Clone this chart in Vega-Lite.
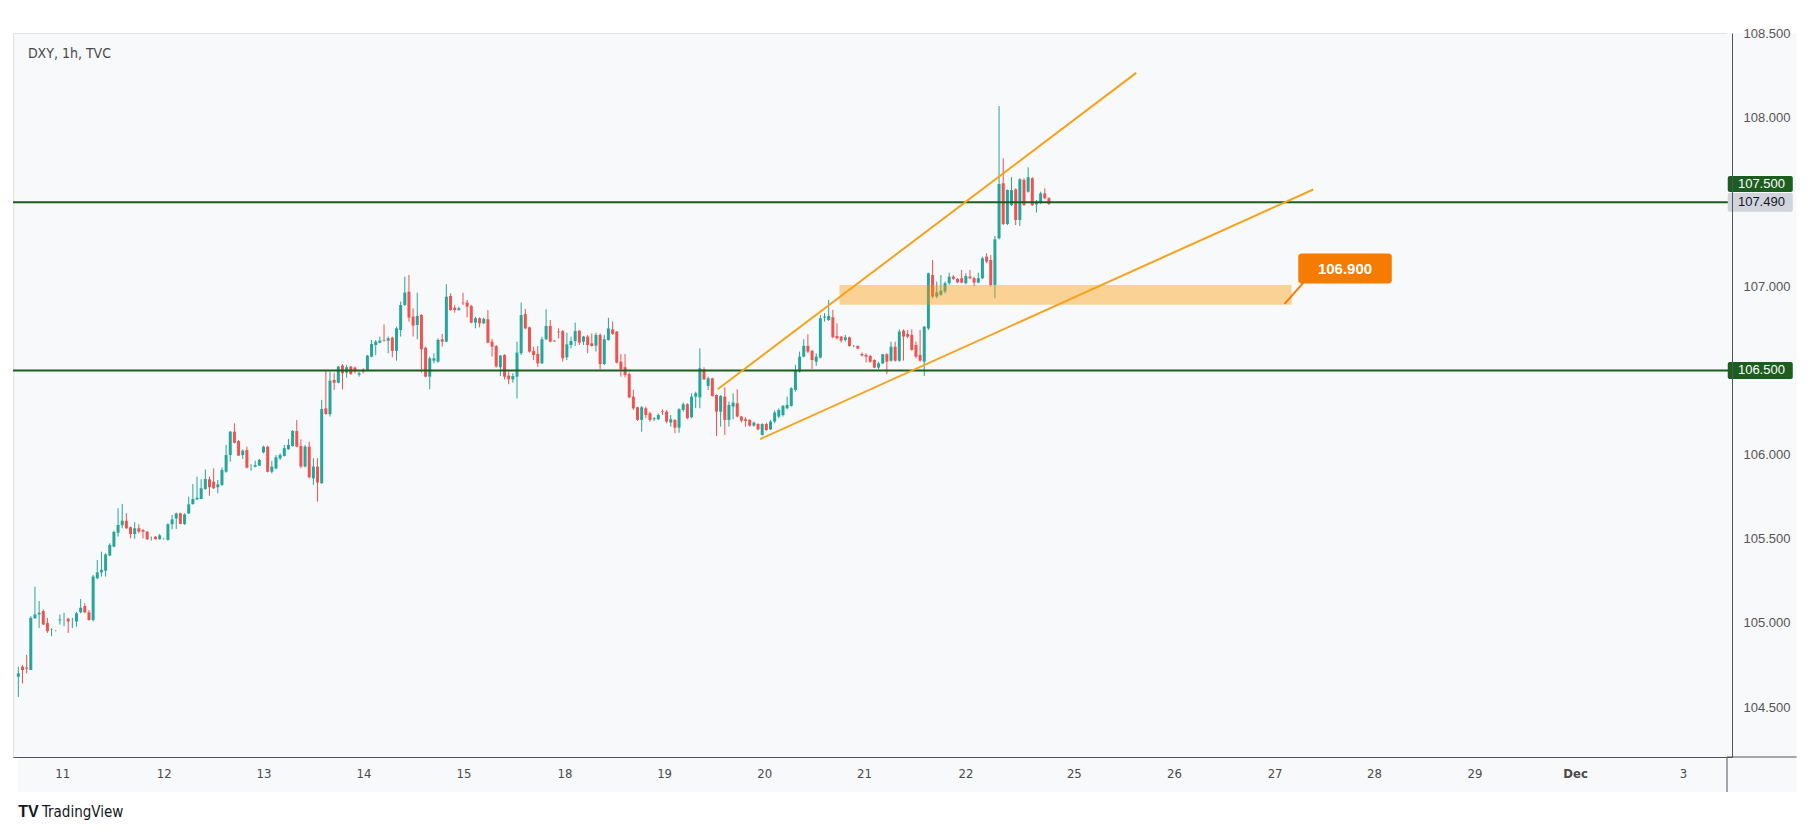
{
"$schema": "https://vega.github.io/schema/vega-lite/v6.json",
"width": 1719, "height": 724,
"autosize": {"type": "none"},
"padding": {"left": 13, "top": 33, "right": 83, "bottom": 78},
"background": "#ffffff",
"config": {"view": {"fill": "#f8f9fb", "stroke": "#e0e3eb"}, "font": "Liberation Sans"},
"datasets": {
"candles": [
{"t":0,"o":104.68,"h":104.74,"l":104.56,"c":104.70},
{"t":1,"o":104.74,"h":104.75,"l":104.64,"c":104.72},
{"t":2,"o":104.735,"h":104.81,"l":104.70,"c":104.728},
{"t":3,"o":104.72,"h":105.04,"l":104.72,"c":105.03},
{"t":4,"o":105.027,"h":105.215,"l":105.025,"c":105.05},
{"t":5,"o":105.05,"h":105.13,"l":104.97,"c":105.06},
{"t":6,"o":105.07,"h":105.08,"l":104.988,"c":104.99},
{"t":7,"o":105.0,"h":105.03,"l":104.94,"c":104.95},
{"t":8,"o":104.958,"h":104.968,"l":104.92,"c":104.96},
{"t":9,"o":104.955,"h":104.957,"l":104.95,"c":104.955},
{"t":10,"o":105.015,"h":105.05,"l":104.99,"c":105.02},
{"t":11,"o":105.02,"h":105.06,"l":104.98,"c":105.02},
{"t":12,"o":105.025,"h":105.03,"l":104.94,"c":105.008},
{"t":13,"o":105.013,"h":105.03,"l":104.97,"c":105.013},
{"t":14,"o":105.008,"h":105.065,"l":104.978,"c":105.057},
{"t":15,"o":105.063,"h":105.142,"l":105.057,"c":105.09},
{"t":16,"o":105.1,"h":105.116,"l":105.057,"c":105.063},
{"t":17,"o":105.063,"h":105.077,"l":105.013,"c":105.017},
{"t":18,"o":105.017,"h":105.285,"l":105.008,"c":105.275},
{"t":19,"o":105.265,"h":105.374,"l":105.259,"c":105.3},
{"t":20,"o":105.3,"h":105.423,"l":105.275,"c":105.315},
{"t":21,"o":105.31,"h":105.413,"l":105.275,"c":105.407},
{"t":22,"o":105.4,"h":105.473,"l":105.398,"c":105.463},
{"t":23,"o":105.453,"h":105.548,"l":105.449,"c":105.54},
{"t":24,"o":105.536,"h":105.681,"l":105.512,"c":105.582},
{"t":25,"o":105.58,"h":105.707,"l":105.562,"c":105.607},
{"t":26,"o":105.607,"h":105.651,"l":105.558,"c":105.562},
{"t":27,"o":105.568,"h":105.572,"l":105.502,"c":105.528},
{"t":28,"o":105.528,"h":105.598,"l":105.499,"c":105.562},
{"t":29,"o":105.562,"h":105.586,"l":105.532,"c":105.542},
{"t":30,"o":105.552,"h":105.558,"l":105.502,"c":105.542},
{"t":31,"o":105.542,"h":105.546,"l":105.493,"c":105.497},
{"t":32,"o":105.503,"h":105.513,"l":105.489,"c":105.503},
{"t":33,"o":105.512,"h":105.515,"l":105.495,"c":105.497},
{"t":34,"o":105.497,"h":105.528,"l":105.495,"c":105.52},
{"t":35,"o":105.5,"h":105.505,"l":105.495,"c":105.5},
{"t":36,"o":105.493,"h":105.592,"l":105.489,"c":105.586},
{"t":37,"o":105.586,"h":105.641,"l":105.556,"c":105.615},
{"t":38,"o":105.62,"h":105.655,"l":105.558,"c":105.65},
{"t":39,"o":105.651,"h":105.655,"l":105.586,"c":105.588},
{"t":40,"o":105.588,"h":105.651,"l":105.582,"c":105.645},
{"t":41,"o":105.65,"h":105.75,"l":105.647,"c":105.704},
{"t":42,"o":105.706,"h":105.825,"l":105.702,"c":105.736},
{"t":43,"o":105.734,"h":105.869,"l":105.73,"c":105.744},
{"t":44,"o":105.736,"h":105.853,"l":105.734,"c":105.8},
{"t":45,"o":105.796,"h":105.912,"l":105.79,"c":105.855},
{"t":46,"o":105.853,"h":105.869,"l":105.756,"c":105.806},
{"t":47,"o":105.839,"h":105.918,"l":105.796,"c":105.8},
{"t":48,"o":105.806,"h":105.849,"l":105.77,"c":105.823},
{"t":49,"o":105.82,"h":105.924,"l":105.813,"c":105.908},
{"t":50,"o":105.898,"h":106.057,"l":105.892,"c":105.997},
{"t":51,"o":105.997,"h":106.14,"l":105.958,"c":106.136},
{"t":52,"o":106.136,"h":106.186,"l":106.067,"c":106.07},
{"t":53,"o":106.08,"h":106.087,"l":105.992,"c":105.994},
{"t":54,"o":105.997,"h":106.031,"l":105.974,"c":106.023},
{"t":55,"o":106.027,"h":106.047,"l":105.918,"c":105.922},
{"t":56,"o":105.932,"h":105.944,"l":105.904,"c":105.932},
{"t":57,"o":105.928,"h":105.964,"l":105.924,"c":105.938},
{"t":58,"o":105.934,"h":105.974,"l":105.932,"c":105.968},
{"t":59,"o":106.013,"h":106.053,"l":106.007,"c":106.047},
{"t":60,"o":106.047,"h":106.053,"l":105.894,"c":105.898},
{"t":61,"o":105.898,"h":105.962,"l":105.888,"c":105.928},
{"t":62,"o":105.918,"h":105.997,"l":105.912,"c":105.984},
{"t":63,"o":105.978,"h":106.007,"l":105.968,"c":105.997},
{"t":64,"o":105.992,"h":106.057,"l":105.988,"c":106.038},
{"t":65,"o":106.032,"h":106.093,"l":106.028,"c":106.057},
{"t":66,"o":106.051,"h":106.146,"l":106.047,"c":106.14},
{"t":67,"o":106.14,"h":106.206,"l":106.043,"c":106.047},
{"t":68,"o":106.051,"h":106.091,"l":105.919,"c":105.929},
{"t":69,"o":105.929,"h":106.057,"l":105.923,"c":106.047},
{"t":70,"o":106.047,"h":106.077,"l":105.859,"c":105.865},
{"t":71,"o":105.859,"h":105.978,"l":105.82,"c":105.929},
{"t":72,"o":105.929,"h":105.978,"l":105.721,"c":105.834},
{"t":73,"o":105.83,"h":106.325,"l":105.826,"c":106.271},
{"t":74,"o":106.275,"h":106.503,"l":106.236,"c":106.241},
{"t":75,"o":106.24,"h":106.493,"l":106.226,"c":106.439},
{"t":76,"o":106.443,"h":106.487,"l":106.384,"c":106.427},
{"t":77,"o":106.427,"h":106.527,"l":106.423,"c":106.523},
{"t":78,"o":106.529,"h":106.538,"l":106.388,"c":106.483},
{"t":79,"o":106.487,"h":106.533,"l":106.457,"c":106.519},
{"t":80,"o":106.523,"h":106.527,"l":106.473,"c":106.479},
{"t":81,"o":106.517,"h":106.523,"l":106.483,"c":106.493},
{"t":82,"o":106.475,"h":106.493,"l":106.463,"c":106.483},
{"t":83,"o":106.503,"h":106.513,"l":106.483,"c":106.493},
{"t":84,"o":106.503,"h":106.592,"l":106.499,"c":106.588},
{"t":85,"o":106.582,"h":106.681,"l":106.578,"c":106.657},
{"t":86,"o":106.651,"h":106.681,"l":106.592,"c":106.671},
{"t":87,"o":106.665,"h":106.701,"l":106.661,"c":106.677},
{"t":88,"o":106.681,"h":106.774,"l":106.671,"c":106.677},
{"t":89,"o":106.677,"h":106.701,"l":106.602,"c":106.691},
{"t":90,"o":106.695,"h":106.701,"l":106.578,"c":106.616},
{"t":91,"o":106.616,"h":106.76,"l":106.558,"c":106.75},
{"t":92,"o":106.74,"h":106.909,"l":106.701,"c":106.889},
{"t":93,"o":106.889,"h":107.057,"l":106.883,"c":106.962},
{"t":94,"o":106.968,"h":107.067,"l":106.79,"c":106.814},
{"t":95,"o":106.82,"h":106.869,"l":106.701,"c":106.766},
{"t":96,"o":106.77,"h":106.962,"l":106.685,"c":106.824},
{"t":97,"o":106.83,"h":106.835,"l":106.487,"c":106.626},
{"t":98,"o":106.635,"h":106.641,"l":106.459,"c":106.463},
{"t":99,"o":106.463,"h":106.582,"l":106.388,"c":106.572},
{"t":100,"o":106.558,"h":106.602,"l":106.542,"c":106.572},
{"t":101,"o":106.552,"h":106.691,"l":106.546,"c":106.681},
{"t":102,"o":106.685,"h":106.717,"l":106.641,"c":106.671},
{"t":103,"o":106.671,"h":107.012,"l":106.667,"c":106.938},
{"t":104,"o":106.942,"h":106.958,"l":106.855,"c":106.859},
{"t":105,"o":106.873,"h":106.889,"l":106.843,"c":106.859},
{"t":106,"o":106.859,"h":106.879,"l":106.855,"c":106.869},
{"t":107,"o":106.903,"h":106.962,"l":106.889,"c":106.899},
{"t":108,"o":106.903,"h":106.919,"l":106.816,"c":106.879},
{"t":109,"o":106.883,"h":106.889,"l":106.78,"c":106.784},
{"t":110,"o":106.784,"h":106.82,"l":106.75,"c":106.81},
{"t":111,"o":106.81,"h":106.816,"l":106.756,"c":106.78},
{"t":112,"o":106.78,"h":106.814,"l":106.776,"c":106.806},
{"t":113,"o":106.804,"h":106.859,"l":106.661,"c":106.665},
{"t":114,"o":106.671,"h":106.687,"l":106.582,"c":106.641},
{"t":115,"o":106.645,"h":106.651,"l":106.517,"c":106.523},
{"t":116,"o":106.519,"h":106.592,"l":106.467,"c":106.588},
{"t":117,"o":106.592,"h":106.596,"l":106.447,"c":106.463},
{"t":118,"o":106.469,"h":106.493,"l":106.418,"c":106.447},
{"t":119,"o":106.447,"h":106.483,"l":106.427,"c":106.467},
{"t":120,"o":106.463,"h":106.671,"l":106.334,"c":106.606},
{"t":121,"o":106.602,"h":106.903,"l":106.592,"c":106.829},
{"t":122,"o":106.835,"h":106.865,"l":106.744,"c":106.75},
{"t":123,"o":106.756,"h":106.76,"l":106.606,"c":106.612},
{"t":124,"o":106.616,"h":106.641,"l":106.562,"c":106.592},
{"t":125,"o":106.598,"h":106.645,"l":106.519,"c":106.542},
{"t":126,"o":106.542,"h":106.7,"l":106.538,"c":106.685},
{"t":127,"o":106.685,"h":106.863,"l":106.681,"c":106.764},
{"t":128,"o":106.764,"h":106.8,"l":106.667,"c":106.671},
{"t":129,"o":106.677,"h":106.68,"l":106.67,"c":106.673},
{"t":130,"o":106.731,"h":106.75,"l":106.69,"c":106.727},
{"t":131,"o":106.734,"h":106.74,"l":106.552,"c":106.572},
{"t":132,"o":106.578,"h":106.724,"l":106.562,"c":106.655},
{"t":133,"o":106.651,"h":106.701,"l":106.631,"c":106.675},
{"t":134,"o":106.675,"h":106.784,"l":106.645,"c":106.734},
{"t":135,"o":106.736,"h":106.74,"l":106.651,"c":106.665},
{"t":136,"o":106.671,"h":106.705,"l":106.651,"c":106.701},
{"t":137,"o":106.701,"h":106.711,"l":106.602,"c":106.651},
{"t":138,"o":106.661,"h":106.72,"l":106.641,"c":106.645},
{"t":139,"o":106.647,"h":106.724,"l":106.612,"c":106.711},
{"t":140,"o":106.711,"h":106.72,"l":106.507,"c":106.538},
{"t":141,"o":106.538,"h":106.711,"l":106.532,"c":106.685},
{"t":142,"o":106.681,"h":106.813,"l":106.677,"c":106.75},
{"t":143,"o":106.744,"h":106.79,"l":106.711,"c":106.717},
{"t":144,"o":106.731,"h":106.734,"l":106.542,"c":106.546},
{"t":145,"o":106.552,"h":106.598,"l":106.463,"c":106.507},
{"t":146,"o":106.519,"h":106.598,"l":106.459,"c":106.473},
{"t":147,"o":106.479,"h":106.487,"l":106.334,"c":106.34},
{"t":148,"o":106.344,"h":106.384,"l":106.265,"c":106.275},
{"t":149,"o":106.281,"h":106.285,"l":106.2,"c":106.206},
{"t":150,"o":106.206,"h":106.289,"l":106.136,"c":106.281},
{"t":151,"o":106.275,"h":106.285,"l":106.216,"c":106.235},
{"t":152,"o":106.245,"h":106.255,"l":106.196,"c":106.206},
{"t":153,"o":106.21,"h":106.222,"l":106.2,"c":106.216},
{"t":154,"o":106.21,"h":106.245,"l":106.206,"c":106.235},
{"t":155,"o":106.257,"h":106.27,"l":106.235,"c":106.253},
{"t":156,"o":106.255,"h":106.265,"l":106.186,"c":106.196},
{"t":157,"o":106.19,"h":106.235,"l":106.166,"c":106.21},
{"t":158,"o":106.206,"h":106.21,"l":106.127,"c":106.16},
{"t":159,"o":106.16,"h":106.275,"l":106.13,"c":106.269},
{"t":160,"o":106.265,"h":106.309,"l":106.255,"c":106.299},
{"t":161,"o":106.299,"h":106.305,"l":106.21,"c":106.216},
{"t":162,"o":106.222,"h":106.364,"l":106.216,"c":106.344},
{"t":163,"o":106.344,"h":106.374,"l":106.275,"c":106.364},
{"t":164,"o":106.34,"h":106.631,"l":106.275,"c":106.513},
{"t":165,"o":106.507,"h":106.519,"l":106.443,"c":106.447},
{"t":166,"o":106.408,"h":106.463,"l":106.384,"c":106.453},
{"t":167,"o":106.453,"h":106.457,"l":106.344,"c":106.348},
{"t":168,"o":106.354,"h":106.358,"l":106.111,"c":106.255},
{"t":169,"o":106.255,"h":106.354,"l":106.166,"c":106.348},
{"t":170,"o":106.344,"h":106.4,"l":106.117,"c":106.206},
{"t":171,"o":106.206,"h":106.315,"l":106.166,"c":106.295},
{"t":172,"o":106.285,"h":106.364,"l":106.21,"c":106.309},
{"t":173,"o":106.305,"h":106.388,"l":106.222,"c":106.226},
{"t":174,"o":106.226,"h":106.23,"l":106.19,"c":106.202},
{"t":175,"o":106.21,"h":106.222,"l":106.166,"c":106.2},
{"t":176,"o":106.206,"h":106.21,"l":106.166,"c":106.172},
{"t":177,"o":106.172,"h":106.196,"l":106.166,"c":106.19},
{"t":178,"o":106.182,"h":106.186,"l":106.143,"c":106.15},
{"t":179,"o":106.117,"h":106.186,"l":106.113,"c":106.182},
{"t":180,"o":106.182,"h":106.19,"l":106.14,"c":106.146},
{"t":181,"o":106.15,"h":106.206,"l":106.146,"c":106.196},
{"t":182,"o":106.196,"h":106.261,"l":106.186,"c":106.25},
{"t":183,"o":106.226,"h":106.275,"l":106.216,"c":106.265},
{"t":184,"o":106.235,"h":106.295,"l":106.226,"c":106.289},
{"t":185,"o":106.275,"h":106.344,"l":106.269,"c":106.295},
{"t":186,"o":106.289,"h":106.4,"l":106.285,"c":106.394},
{"t":187,"o":106.384,"h":106.533,"l":106.374,"c":106.503},
{"t":188,"o":106.493,"h":106.612,"l":106.487,"c":106.582},
{"t":189,"o":106.582,"h":106.685,"l":106.578,"c":106.646},
{"t":190,"o":106.646,"h":106.715,"l":106.602,"c":106.612},
{"t":191,"o":106.616,"h":106.622,"l":106.507,"c":106.562},
{"t":192,"o":106.552,"h":106.602,"l":106.527,"c":106.582},
{"t":193,"o":106.576,"h":106.83,"l":106.572,"c":106.81},
{"t":194,"o":106.814,"h":106.84,"l":106.79,"c":106.82},
{"t":195,"o":106.8,"h":106.919,"l":106.794,"c":106.824},
{"t":196,"o":106.816,"h":106.86,"l":106.691,"c":106.697},
{"t":197,"o":106.705,"h":106.78,"l":106.685,"c":106.691},
{"t":198,"o":106.701,"h":106.705,"l":106.665,"c":106.677},
{"t":199,"o":106.681,"h":106.711,"l":106.671,"c":106.697},
{"t":200,"o":106.697,"h":106.701,"l":106.641,"c":106.645},
{"t":201,"o":106.645,"h":106.651,"l":106.638,"c":106.646},
{"t":202,"o":106.645,"h":106.649,"l":106.626,"c":106.63},
{"t":203,"o":106.598,"h":106.606,"l":106.582,"c":106.59},
{"t":204,"o":106.592,"h":106.602,"l":106.547,"c":106.582},
{"t":205,"o":106.586,"h":106.592,"l":106.546,"c":106.552},
{"t":206,"o":106.562,"h":106.566,"l":106.513,"c":106.517},
{"t":207,"o":106.517,"h":106.552,"l":106.507,"c":106.542},
{"t":208,"o":106.542,"h":106.598,"l":106.538,"c":106.596},
{"t":209,"o":106.596,"h":106.602,"l":106.479,"c":106.552},
{"t":210,"o":106.558,"h":106.671,"l":106.552,"c":106.641},
{"t":211,"o":106.641,"h":106.671,"l":106.552,"c":106.558},
{"t":212,"o":106.558,"h":106.744,"l":106.552,"c":106.731},
{"t":213,"o":106.737,"h":106.744,"l":106.558,"c":106.701},
{"t":214,"o":106.717,"h":106.74,"l":106.691,"c":106.701},
{"t":215,"o":106.711,"h":106.744,"l":106.618,"c":106.622},
{"t":216,"o":106.651,"h":106.671,"l":106.572,"c":106.582},
{"t":217,"o":106.592,"h":106.74,"l":106.552,"c":106.558},
{"t":218,"o":106.552,"h":106.764,"l":106.467,"c":106.76},
{"t":219,"o":106.75,"h":107.081,"l":106.74,"c":107.077},
{"t":220,"o":107.067,"h":107.156,"l":106.929,"c":106.939},
{"t":221,"o":106.939,"h":107.028,"l":106.929,"c":106.964},
{"t":222,"o":106.95,"h":107.067,"l":106.943,"c":106.974},
{"t":223,"o":106.969,"h":107.028,"l":106.958,"c":107.018},
{"t":224,"o":107.018,"h":107.081,"l":107.008,"c":107.057},
{"t":225,"o":107.057,"h":107.067,"l":107.038,"c":107.044},
{"t":226,"o":107.044,"h":107.048,"l":107.018,"c":107.024},
{"t":227,"o":107.048,"h":107.097,"l":107.018,"c":107.022},
{"t":228,"o":107.018,"h":107.077,"l":107.012,"c":107.061},
{"t":229,"o":107.057,"h":107.097,"l":107.042,"c":107.048},
{"t":230,"o":107.048,"h":107.057,"l":107.002,"c":107.022},
{"t":231,"o":107.022,"h":107.081,"l":107.018,"c":107.048},
{"t":232,"o":107.048,"h":107.176,"l":107.042,"c":107.166},
{"t":233,"o":107.176,"h":107.196,"l":107.137,"c":107.147},
{"t":234,"o":107.156,"h":107.186,"l":106.998,"c":107.008},
{"t":235,"o":107.008,"h":107.299,"l":106.929,"c":107.279},
{"t":236,"o":107.285,"h":108.071,"l":107.279,"c":107.608},
{"t":237,"o":107.612,"h":107.761,"l":107.364,"c":107.37},
{"t":238,"o":107.37,"h":107.576,"l":107.364,"c":107.572},
{"t":239,"o":107.483,"h":107.648,"l":107.477,"c":107.572},
{"t":240,"o":107.576,"h":107.582,"l":107.364,"c":107.394},
{"t":241,"o":107.394,"h":107.642,"l":107.358,"c":107.636},
{"t":242,"o":107.632,"h":107.642,"l":107.477,"c":107.483},
{"t":243,"o":107.562,"h":107.707,"l":107.556,"c":107.648},
{"t":244,"o":107.642,"h":107.648,"l":107.477,"c":107.483},
{"t":245,"o":107.487,"h":107.513,"l":107.438,"c":107.503},
{"t":246,"o":107.497,"h":107.562,"l":107.489,"c":107.552},
{"t":247,"o":107.552,"h":107.582,"l":107.517,"c":107.523},
{"t":248,"o":107.523,"h":107.529,"l":107.483,"c":107.49}
],
"levels": [{"p": 107.5}, {"p": 106.5}],
"trend": [
{"id": "upper", "t": 168.3, "p": 106.388},
{"id": "upper", "t": 269.0, "p": 108.268},
{"id": "lower", "t": 178.5, "p": 106.092},
{"id": "lower", "t": 311.6, "p": 107.575}
],
"zone": [{"t1": 197.6, "t2": 306.4, "p1": 106.89, "p2": 107.008}],
"callout": [{"label": "106.900", "t1": 308.0, "t2": 330.5, "p1": 107.016, "p2": 107.195, "tm": 319.25, "pm": 107.105}],
"pointer": [{"t": 304.7, "p": 106.895}, {"t": 309.2, "p": 107.02}],
"tags": [
{"label": "107.500", "kind": "level", "lo": 107.56, "hi": 107.655, "mid": 107.607},
{"label": "107.490", "kind": "last", "lo": 107.443, "hi": 107.554, "mid": 107.498},
{"label": "106.500", "kind": "level", "lo": 106.449, "hi": 106.55, "mid": 106.5}
]
},
"layer": [
{
"data": {"name": "candles"},
"mark": {"type": "rule", "strokeWidth": 1, "clip": true},
"encoding": {
"x": {"field": "t", "type": "quantitative", "scale": {"domain": [-0.08, 411.17], "nice": false, "zero": false},
"axis": {"orient": "bottom", "title": null, "grid": false, "ticks": false, "zindex": 1,
"values": [10.54, 35, 59, 83.06, 107.1, 131.4, 155.4, 179.5, 203.5, 227.9, 254, 278.1, 302.3, 326.2, 350.4, 374.6, 400.6],
"labelExpr": "['11','12','13','14','15','18','19','20','21','22','25','26','27','28','29','Dec','3'][indexof([10.54,35,59,83.06,107.1,131.4,155.4,179.5,203.5,227.9,254,278.1,302.3,326.2,350.4,374.6,400.6], datum.value)]",
"labelFontWeight": {"condition": {"test": "datum.value == 374.6", "value": "bold"}, "value": "normal"},
"labelFont": "'DejaVu Sans Condensed', 'Liberation Sans', sans-serif", "labelFontSize": 13, "labelColor": "#4a4a4a", "labelPadding": 10,
"labelOverlap": false, "labelFlush": false, "domainColor": "#50535e", "domainWidth": 1}},
"y": {"field": "l", "type": "quantitative", "scale": {"domain": [104.203, 108.505], "nice": false, "zero": false},
"axis": {"orient": "right", "title": null, "grid": false, "ticks": false, "zindex": 1,
"values": [104.5, 105, 105.5, 106, 107, 108, 108.5], "format": ".3f",
"labelFont": "Liberation Sans", "labelFontSize": 13, "labelColor": "#555555", "labelPadding": 11,
"labelOverlap": false, "labelFlush": false, "domainColor": "#50535e", "domainWidth": 1}},
"y2": {"field": "h"},
"color": {"condition": {"test": "datum.c >= datum.o", "value": "#26a69a"}, "value": "#ef5350"}
}
},
{
"data": {"values": [{}]},
"mark": {"type": "rect", "fill": "#f8f9fb", "clip": false},
"encoding": {
"x": {"datum": 411.17, "type": "quantitative", "scale": {"domain": [-0.08, 411.17], "nice": false, "zero": false}},
"x2": {"datum": 427.9},
"y": {"datum": 108.505, "type": "quantitative", "scale": {"domain": [104.203, 108.505], "nice": false, "zero": false}},
"y2": {"datum": 103.995}
}
},
{
"data": {"values": [{}]},
"mark": {"type": "rect", "fill": "#f8f9fb", "clip": false},
"encoding": {
"x": {"datum": -0.08, "type": "quantitative", "scale": {"domain": [-0.08, 411.17], "nice": false, "zero": false}},
"x2": {"datum": 411.17},
"y": {"datum": 104.203, "type": "quantitative", "scale": {"domain": [104.203, 108.505], "nice": false, "zero": false}},
"y2": {"datum": 103.995}
}
},
{
"data": {"values": [{}]},
"mark": {"type": "rule", "color": "#50535e", "strokeWidth": 1, "clip": false},
"encoding": {
"x": {"datum": 411.17, "type": "quantitative", "scale": {"domain": [-0.08, 411.17], "nice": false, "zero": false}},
"x2": {"datum": 427.9},
"y": {"datum": 104.203, "type": "quantitative", "scale": {"domain": [104.203, 108.505], "nice": false, "zero": false}}
}
},
{
"data": {"values": [{}]},
"mark": {"type": "rule", "color": "#50535e", "strokeWidth": 1, "clip": false},
"encoding": {
"x": {"datum": 411.17, "type": "quantitative", "scale": {"domain": [-0.08, 411.17], "nice": false, "zero": false}},
"y": {"datum": 104.203, "type": "quantitative", "scale": {"domain": [104.203, 108.505], "nice": false, "zero": false}},
"y2": {"datum": 103.995}
}
},
{
"data": {"name": "candles"},
"mark": {"type": "bar", "size": 3, "clip": true},
"encoding": {
"x": {"field": "t", "type": "quantitative", "scale": {"domain": [-0.08, 411.17], "nice": false, "zero": false}},
"y": {"field": "o", "type": "quantitative", "scale": {"domain": [104.203, 108.505], "nice": false, "zero": false}},
"y2": {"field": "c"},
"color": {"condition": {"test": "datum.c >= datum.o", "value": "#26a69a"}, "value": "#ef5350"}
}
},
{
"data": {"name": "zone"},
"mark": {"type": "rect", "fill": "#ff9800", "opacity": 0.4},
"encoding": {
"x": {"field": "t1", "type": "quantitative", "scale": {"domain": [-0.08, 411.17], "nice": false, "zero": false}},
"x2": {"field": "t2"},
"y": {"field": "p1", "type": "quantitative", "scale": {"domain": [104.203, 108.505], "nice": false, "zero": false}},
"y2": {"field": "p2"}
}
},
{
"data": {"name": "levels"},
"mark": {"type": "rule", "color": "#1b5e20", "strokeWidth": 2},
"encoding": {
"y": {"field": "p", "type": "quantitative", "scale": {"domain": [104.203, 108.505], "nice": false, "zero": false}}
}
},
{
"data": {"name": "trend"},
"mark": {"type": "line", "color": "#f7a21b", "strokeWidth": 2, "clip": true},
"encoding": {
"x": {"field": "t", "type": "quantitative", "scale": {"domain": [-0.08, 411.17], "nice": false, "zero": false}},
"y": {"field": "p", "type": "quantitative", "scale": {"domain": [104.203, 108.505], "nice": false, "zero": false}},
"detail": {"field": "id"}
}
},
{
"data": {"name": "pointer"},
"mark": {"type": "line", "color": "#f57c00", "strokeWidth": 2},
"encoding": {
"x": {"field": "t", "type": "quantitative", "scale": {"domain": [-0.08, 411.17], "nice": false, "zero": false}},
"y": {"field": "p", "type": "quantitative", "scale": {"domain": [104.203, 108.505], "nice": false, "zero": false}}
}
},
{
"data": {"name": "callout"},
"mark": {"type": "rect", "fill": "#f57c00", "cornerRadius": 3},
"encoding": {
"x": {"field": "t1", "type": "quantitative", "scale": {"domain": [-0.08, 411.17], "nice": false, "zero": false}},
"x2": {"field": "t2"},
"y": {"field": "p1", "type": "quantitative", "scale": {"domain": [104.203, 108.505], "nice": false, "zero": false}},
"y2": {"field": "p2"}
}
},
{
"data": {"name": "callout"},
"mark": {"type": "text", "color": "#ffffff", "fontSize": 15, "fontWeight": "bold", "font": "Liberation Sans", "align": "center", "baseline": "middle"},
"encoding": {
"x": {"field": "tm", "type": "quantitative", "scale": {"domain": [-0.08, 411.17], "nice": false, "zero": false}},
"y": {"field": "pm", "type": "quantitative", "scale": {"domain": [104.203, 108.505], "nice": false, "zero": false}},
"text": {"field": "label"}
}
},
{
"data": {"name": "tags"},
"mark": {"type": "rect", "clip": false, "cornerRadius": 2},
"encoding": {
"x": {"datum": 411.35, "type": "quantitative", "scale": {"domain": [-0.08, 411.17], "nice": false, "zero": false}},
"x2": {"datum": 427.0},
"y": {"field": "lo", "type": "quantitative", "scale": {"domain": [104.203, 108.505], "nice": false, "zero": false}},
"y2": {"field": "hi"},
"color": {"condition": {"test": "datum.kind == 'last'", "value": "#d1d4dc"}, "value": "#1b5e20"}
}
},
{
"data": {"name": "tags"},
"mark": {"type": "text", "clip": false, "fontSize": 13, "font": "Liberation Sans", "align": "left", "baseline": "middle", "fontWeight": 500},
"encoding": {
"x": {"datum": 413.8, "type": "quantitative", "scale": {"domain": [-0.08, 411.17], "nice": false, "zero": false}},
"y": {"field": "mid", "type": "quantitative", "scale": {"domain": [104.203, 108.505], "nice": false, "zero": false}},
"text": {"field": "label"},
"color": {"condition": {"test": "datum.kind == 'last'", "value": "#131722"}, "value": "#ffffff"}
}
},
{
"data": {"values": [{"label": "DXY, 1h, TVC"}]},
"mark": {"type": "text", "fontSize": 14, "font": "'DejaVu Sans Condensed', 'Liberation Sans', sans-serif", "color": "#4a4a4a", "align": "left", "baseline": "middle"},
"encoding": {
"x": {"datum": 2.3, "type": "quantitative", "scale": {"domain": [-0.08, 411.17], "nice": false, "zero": false}},
"y": {"datum": 108.38, "type": "quantitative", "scale": {"domain": [104.203, 108.505], "nice": false, "zero": false}},
"text": {"field": "label"}
}
},
{
"data": {"values": [{"label": "TV"}]},
"mark": {"type": "text", "clip": false, "fontSize": 16, "fontWeight": 900, "font": "Liberation Sans", "color": "#131722", "align": "left", "baseline": "middle"},
"encoding": {
"x": {"datum": 0.0, "type": "quantitative", "scale": {"domain": [-0.08, 411.17], "nice": false, "zero": false}},
"y": {"datum": 103.876, "type": "quantitative", "scale": {"domain": [104.203, 108.505], "nice": false, "zero": false}},
"text": {"field": "label"}
}
},
{
"data": {"values": [{"label": "TradingView"}]},
"mark": {"type": "text", "clip": false, "fontSize": 15, "font": "'DejaVu Sans Condensed', 'Liberation Sans', sans-serif", "color": "#131722", "align": "left", "baseline": "middle"},
"encoding": {
"x": {"datum": 5.7, "type": "quantitative", "scale": {"domain": [-0.08, 411.17], "nice": false, "zero": false}},
"y": {"datum": 103.876, "type": "quantitative", "scale": {"domain": [104.203, 108.505], "nice": false, "zero": false}},
"text": {"field": "label"}
}
}
]
}
